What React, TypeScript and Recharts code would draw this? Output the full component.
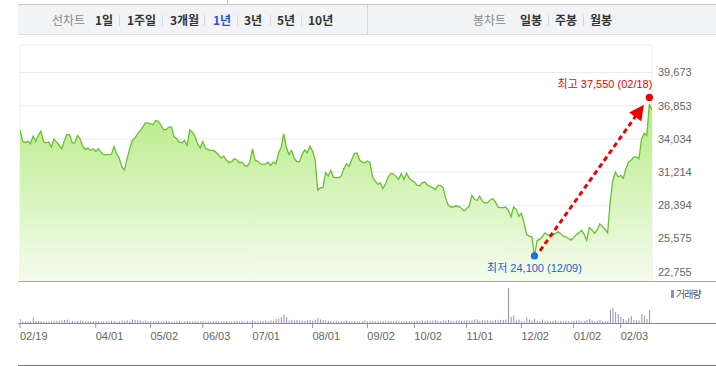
import React from 'react';
import {
  ComposedChart,
  Area,
  XAxis,
  YAxis,
  CartesianGrid,
  ReferenceDot,
  ReferenceLine,
  BarChart,
  Bar,
} from 'recharts';

// ---- data ----
const prices = [
  34800, 33840, 33700, 33840, 33620, 34260, 33810, 34320, 34690, 33810,
  33700, 33760, 33330, 34010, 33760, 33470, 33190, 33900, 34400, 34380,
  33700, 33700, 34320, 34040, 33420, 33140, 33250, 33050, 33190, 32970,
  33190, 32910, 32690, 32690, 32700, 32720, 33390, 32770, 32400, 31640,
  31400, 32350, 33190, 33900, 34120, 34460, 34740, 35030, 35390, 35390,
  35310, 35250, 35590, 35530, 35170, 34800, 34830, 35030, 35030, 34230,
  34040, 33760, 33700, 33900, 33470, 34800, 34600, 34240, 33620, 33250,
  33810, 33250, 33110, 33050, 33050, 32910, 32690, 32400, 32570, 32260,
  32010, 32100, 32350, 32260, 32010, 32060, 31780, 31700, 32060, 33190,
  32200, 32150, 31920, 31870, 31920, 32060, 31780, 32060, 31920, 32830,
  33300, 34460, 33300, 32700, 33050, 32400, 32100, 32100, 32700, 33100,
  32850, 33400, 33000, 32300, 29670, 29890, 29890, 31160, 30880, 31360,
  30790, 30740, 30740, 30880, 31500, 31920, 31700, 32260, 32770, 32850,
  32260, 32060, 32010, 32150, 32010, 30800, 30450, 30180, 30290, 29810,
  30250, 30800, 31100, 31050, 30850, 30600, 31080, 30570, 31130, 30710,
  30510, 30370, 30100, 30050, 30300, 30370, 30100, 30000, 29890, 29720,
  30090, 30090, 29890, 29000, 28400, 28250, 28250, 28350, 28280, 28150,
  27920, 28100, 28310, 29240, 28900, 28800, 29160, 28740, 28600, 28600,
  28850, 28960, 28700, 28250, 28200, 28200, 28250, 27950, 27400, 28260,
  28050, 27470, 27720, 26900, 25900, 25775, 25720, 24100, 25400, 25500,
  25720, 26050, 25900, 25860, 25860, 26000, 26140, 26000, 25780, 25720,
  25580, 25440, 25650, 25900, 26050, 26280, 25950, 25400, 26500, 26300,
  26000, 26280, 26800, 26620, 26340, 26060, 28700, 30500, 31200, 30800,
  30930, 30700, 31500, 32050, 32220, 32490, 32500, 32350, 34000, 34520,
  34300, 37000, 36490,
];

const volumes = [
  200, 70, 80, 50, 90, 270, 100, 100, 90, 60,
  80, 60, 70, 90, 100, 80, 120, 150, 170, 90,
  100, 80, 90, 130, 110, 70, 90, 60, 80, 100,
  70, 60, 90, 80, 70, 100, 90, 60, 80, 110,
  90, 120, 100, 170, 150, 140, 130, 90, 120, 80,
  100, 70, 90, 110, 80, 70, 100, 90, 60, 80,
  70, 90, 60, 80, 100, 70, 60, 90, 80, 70,
  90, 60, 80, 70, 90, 100, 70, 80, 60, 90,
  70, 80, 90, 100, 70, 80, 60, 90, 80, 150,
  80, 90, 70, 100, 110, 90, 120, 110, 200, 230,
  300, 420, 290, 130, 160, 140, 150, 110, 120, 100,
  130, 150, 110, 150, 260, 170, 150, 120, 110, 100,
  90, 110, 80, 100, 90, 120, 100, 80, 90, 70,
  80, 90, 120, 80, 70, 100, 80, 90, 70, 80,
  90, 70, 100, 80, 110, 90, 70, 80, 90, 100,
  80, 90, 110, 100, 130, 90, 110, 100, 120, 150,
  110, 90, 120, 100, 150, 110, 90, 120, 130, 110,
  120, 140, 130, 150, 170, 170, 110, 130, 120, 140,
  110, 130, 150, 120, 160, 150, 170, 1750, 300, 370,
  130, 170, 90, 80, 270, 170, 130, 200, 120, 90,
  170, 90, 110, 80, 100, 120, 90, 100, 80, 110,
  90, 80, 100, 110, 130, 90, 100, 150, 200, 120,
  80, 110, 150, 90, 100, 100, 650, 750, 550, 450,
  300, 200, 130, 250, 350, 150, 130, 130, 450, 350,
  200, 650, 100,
];

const tickIndex = [0, 29, 50, 70, 89, 112, 133, 151, 171, 192, 212, 230];
const tickLabels = ['02/19', '04/01', '05/02', '06/03', '07/01', '08/01', '09/02', '10/02', '11/01', '12/02', '01/02', '02/03'];
const priceTicks = [22755, 25575, 28394, 31214, 34034, 36853, 39673];
const maxPoint = { index: 241, value: 37550, date: '02/18' };
const minPoint = { index: 197, value: 24100, date: '12/09' };
const trendStart = { index: 199.1, value: 24530 };
const trendEnd = { index: 238.9, value: 36940 };
const rangeButtons = ['1일', '1주일', '3개월', '1년', '3년', '5년', '10년'];
const selectedRange = '1년';
const candleButtons = ['일봉', '주봉', '월봉'];
const volumeLegend = '거래량';

// ---- layout (not data) ----
const rangeX = [95, 127, 170, 213, 244, 277, 308];
const rangeSepX = [119, 162, 204, 237, 270, 301];
const candleX = [520, 555, 590];
const candleSepX = [548, 583];

const data = prices.map((p, i) => ({ i, price: p, vol: volumes[i] }));
const fmt = (v: number) => v.toLocaleString('en-US');
const LATIN = "'Liberation Sans', Arial, 'Noto Sans CJK KR', sans-serif";
const KR = "'Noto Sans CJK KR', sans-serif";

const ArrowShape = (props: any) => {
  const { x1, y1, x2, y2 } = props;
  if ([x1, y1, x2, y2].some((v) => typeof v !== 'number' || isNaN(v))) return <g />;
  const dx = x2 - x1;
  const dy = y2 - y1;
  const len = Math.sqrt(dx * dx + dy * dy);
  const ux = dx / len;
  const uy = dy / len;
  const L = 15;
  const W = 7.5;
  const bx = x2 - ux * L;
  const by = y2 - uy * L;
  const nx = -uy;
  const ny = ux;
  return (
    <g>
      <line x1={x1} y1={y1} x2={bx + ux * 2} y2={by + uy * 2} stroke="#f20000" strokeWidth={3} strokeDasharray="5 3.5" />
      <polygon
        points={`${x2},${y2} ${bx + nx * W},${by + ny * W} ${bx - nx * W},${by - ny * W}`}
        fill="#f20000"
      />
    </g>
  );
};

const MaxDot = (props: any) => {
  const { cx, cy } = props;
  return (
    <g>
      <circle cx={cx} cy={cy} r={3.6} fill="#f20000" />
      <text x={cx + 3} y={cy - 9} textAnchor="end" fill="#ee0000" fontSize={11} fontFamily={LATIN}>
        {`최고 ${fmt(maxPoint.value)} (${maxPoint.date})`}
      </text>
    </g>
  );
};

const MinDot = (props: any) => {
  const { cx, cy } = props;
  return (
    <g>
      <circle cx={cx} cy={cy} r={3.6} fill="#1b6fe3" />
      <text x={cx} y={cy + 16} textAnchor="middle" fill="#1a62d2" fontSize={11} fontFamily={LATIN}>
        {`최저 ${fmt(minPoint.value)} (${minPoint.date})`}
      </text>
    </g>
  );
};

const DateTick = (props: any) => {
  const { x, y, payload } = props;
  const k = tickIndex.indexOf(payload.value);
  return (
    <text x={x} y={y} dy="0.71em" textAnchor="start" fill="#666" fontSize={11} fontFamily={LATIN}>
      {k >= 0 ? tickLabels[k] : ''}
    </text>
  );
};

const abs = (s: React.CSSProperties): React.CSSProperties => ({ position: 'absolute', ...s });

export default function App() {
  return (
    <div style={abs({ left: 0, top: 0, width: 716, height: 366, background: '#fff', fontFamily: KR, overflow: 'hidden' })}>
      {/* top control bar */}
      <div style={abs({ left: 227, top: 0, width: 1, height: 4, background: '#c8c8c8' })} />
      <div style={abs({ left: 18, top: 4, width: 698, height: 31, background: '#f2f3f7', borderTop: '1px solid #c4c4c4', borderBottom: '1px solid #dcdcdc', boxSizing: 'border-box' })} />
      <div style={abs({ left: 367, top: 5, width: 1, height: 29, background: '#d8d8d8' })} />
      <div style={abs({ left: 52, top: 11, fontSize: 12, lineHeight: '18px', color: '#888' })}>선차트</div>
      {rangeButtons.map((b, k) => (
        <div key={b} style={abs({ left: rangeX[k], top: 11, fontSize: 12, lineHeight: '18px', fontWeight: 700, color: b === selectedRange ? '#2d56c8' : '#333', whiteSpace: 'nowrap' })}>{b}</div>
      ))}
      {rangeSepX.map((x) => (
        <div key={x} style={abs({ left: x, top: 15, width: 1, height: 11, background: '#d6d6d6' })} />
      ))}
      <div style={abs({ left: 473, top: 11, fontSize: 12, lineHeight: '18px', color: '#888' })}>봉차트</div>
      {candleButtons.map((b, k) => (
        <div key={b} style={abs({ left: candleX[k], top: 11, fontSize: 12, lineHeight: '18px', fontWeight: 700, color: '#333', whiteSpace: 'nowrap' })}>{b}</div>
      ))}
      {candleSepX.map((x) => (
        <div key={x} style={abs({ left: x, top: 15, width: 1, height: 11, background: '#d6d6d6' })} />
      ))}

      {/* price chart */}
      <div style={abs({ left: 0, top: 0 })}>
        <ComposedChart width={716} height={282} data={data} margin={{ top: 45, right: 0, bottom: 1, left: 20 }}>
          <defs>
            <linearGradient id="priceFill" x1="0" y1="0" x2="0" y2="1">
              <stop offset="0%" stopColor="#b8eb86" />
              <stop offset="100%" stopColor="#f5fcef" />
            </linearGradient>
          </defs>
          <CartesianGrid stroke="#ebebeb" />
          <XAxis dataKey="i" type="number" domain={[0, 242]} ticks={tickIndex} interval={0} height={0} tick={false} axisLine={false} tickLine={false} allowDataOverflow />
          <YAxis
            orientation="right"
            width={64}
            type="number"
            domain={[21967, 42003]}
            ticks={priceTicks}
            interval={0}
            allowDataOverflow
            tickLine={false}
            axisLine={false}
            tickSize={4}
            tickMargin={2}
            tick={{ fill: '#666', fontSize: 11, fontFamily: LATIN }}
            tickFormatter={fmt}
          />
          <Area type="linear" dataKey="price" stroke="#68c12f" strokeWidth={1.3} fill="url(#priceFill)" fillOpacity={1} isAnimationActive={false} dot={false} activeDot={false} />
          <ReferenceLine
            segment={[
              { x: trendStart.index, y: trendStart.value },
              { x: trendEnd.index, y: trendEnd.value },
            ]}
            shape={ArrowShape}
          />
          <ReferenceDot x={maxPoint.index} y={maxPoint.value} r={3.6} shape={MaxDot} />
          <ReferenceDot x={minPoint.index} y={minPoint.value} r={3.6} shape={MinDot} />
        </ComposedChart>
      </div>
      <div style={abs({ left: 18, top: 281, width: 698, height: 1, background: '#a8a8a8' })} />

      {/* volume chart */}
      <div style={abs({ left: 0, top: 283 })}>
        <BarChart width={716} height={70} data={data} margin={{ top: 0, right: 64, bottom: 0, left: 20 }}>
          <XAxis dataKey="i" type="number" domain={[0, 242]} ticks={tickIndex} interval={0} height={30} tickSize={5} tickMargin={4} axisLine={false} tickLine={{ stroke: '#999' }} tick={DateTick} allowDataOverflow />
          <YAxis hide type="number" domain={[0, 2000]} allowDataOverflow />
          <Bar dataKey="vol" fill="#9b89cc" barSize={1} isAnimationActive={false} />
        </BarChart>
      </div>
      <div style={abs({ left: 18, top: 323, width: 698, height: 1, background: '#8c8c8c' })} />
      <div style={abs({ left: 671, top: 290, width: 3, height: 8, background: '#9b89cc' })} />
      <div style={abs({ left: 676, top: 287, fontSize: 10, lineHeight: '14px', letterSpacing: '-1px', color: '#555', whiteSpace: 'nowrap' })}>{volumeLegend}</div>
      <div style={abs({ left: 18, top: 365, width: 698, height: 1, background: '#777' })} />
    </div>
  );
}
